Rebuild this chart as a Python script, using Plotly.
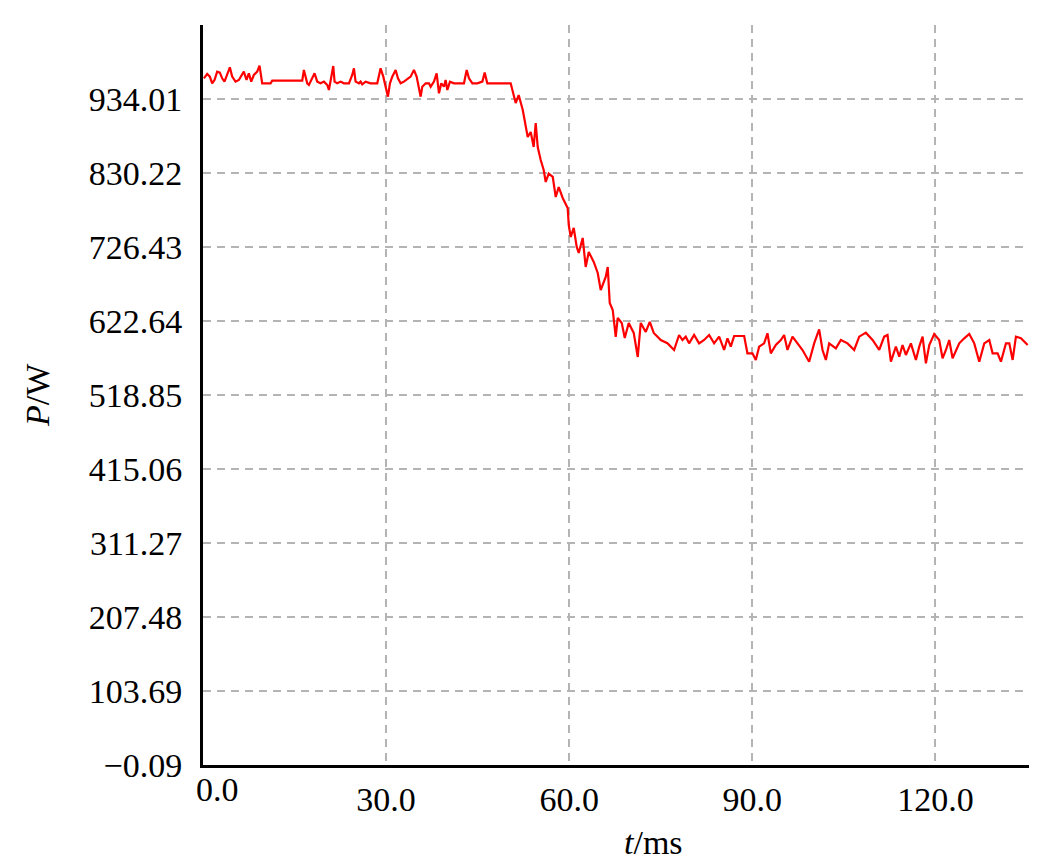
import plotly.graph_objects as go

# Time (ms) and power (W)
t_ms = [
    0.14, 0.68, 1.12, 1.50, 1.89, 2.32, 2.76, 3.14, 3.52, 3.96, 4.40, 4.78, 5.33, 5.87, 6.42, 6.69,
    7.13, 7.51, 7.90, 8.33, 8.88, 9.26, 9.70, 11.07, 11.34, 16.26, 16.53, 16.80, 17.08, 17.35, 17.90,
    18.28, 18.72, 19.26, 19.81, 20.36, 20.63, 20.90, 21.18, 21.34, 21.56, 22.00, 22.54, 23.09, 23.91,
    24.45, 24.73, 25.00, 25.55, 25.82, 26.09, 26.64, 27.46, 28.55, 29.10, 29.54, 29.92, 30.30, 30.63,
    31.01, 31.56, 31.94, 32.38, 32.92, 34.02, 34.56, 35.00, 35.38, 35.66, 35.93, 36.48, 37.02, 37.30,
    37.84, 38.28, 38.66, 39.04, 39.48, 39.75, 40.03, 40.46, 41.12, 42.76, 43.20, 43.58, 44.13, 44.95,
    45.77, 46.15, 46.58, 47.13, 50.41,
    51.23, 51.72, 52.38, 53.20, 53.69, 54.18, 54.51, 54.84, 55.33, 55.82, 56.15, 56.64, 57.30, 57.79,
    58.28, 58.93, 59.75, 59.92, 60.25, 60.74, 61.23, 61.56, 62.21, 62.70, 63.20, 64.02, 64.67, 65.16,
    65.98, 66.31, 66.64, 67.13, 67.62, 67.95, 68.61, 69.10, 69.75, 70.57, 71.23, 71.72, 72.54, 73.20,
    73.85, 75.00, 76.09, 77.18, 78.00, 78.55, 79.09, 79.64, 80.46, 81.28, 82.10, 82.92, 83.74, 84.56,
    85.38, 85.93, 86.47, 87.02, 88.66, 89.20, 90.02, 90.57, 91.12, 91.93, 92.48, 93.03, 93.85, 94.67,
    95.21, 95.76, 96.58, 97.40, 98.22, 99.31, 100.13, 100.95, 101.50, 102.05, 102.59, 103.69, 104.51,
    105.60, 106.69, 107.51, 108.60, 109.70, 110.79, 111.61, 112.15, 112.70, 113.52, 114.07, 114.61,
    115.16, 115.98, 116.80, 117.35, 117.89, 118.44, 118.99, 119.80, 120.62, 121.17, 121.72, 122.26,
    122.81, 123.90, 124.72, 125.54, 126.36, 127.18, 128.00, 128.82, 129.37, 130.19, 130.73, 131.55,
    132.10, 132.65, 133.19, 134.01, 135.11,
]
p_w = [
    963.0, 969.1, 965.4, 956.0, 960.7, 972.4, 971.0, 963.0, 958.4, 970.0, 978.5, 965.4, 958.4, 960.7,
    970.0, 972.4, 960.7, 970.0, 958.4, 967.7, 972.4, 980.8, 956.0, 956.0, 959.8, 959.8, 974.7, 965.4,
    956.0, 953.7, 963.0, 970.0, 958.4, 956.0, 958.4, 953.7, 946.7, 958.4, 970.0, 980.3, 958.4, 956.0,
    958.4, 956.0, 956.0, 967.7, 977.0, 958.4, 956.0, 958.4, 954.6, 958.4, 956.0, 956.0, 977.0, 965.4,
    951.3, 937.3, 956.0, 965.4, 974.7, 963.0, 956.0, 958.4, 965.4, 974.7, 965.4, 951.3, 937.3, 951.3,
    956.0, 956.0, 951.3, 958.4, 970.0, 942.0, 956.0, 951.3, 960.7, 946.7, 958.4, 956.0, 956.0, 974.7,
    963.0, 956.0, 956.0, 958.4, 971.0, 956.0, 956.0, 956.0,
    928.4, 939.6, 918.9, 880.7, 887.8, 866.7, 900.4, 866.7, 848.5, 834.5, 817.6, 829.4, 824.7, 796.6,
    810.6, 795.2, 781.2, 757.3, 740.5, 753.2, 726.5, 718.0, 739.1, 698.4, 719.4, 705.4, 690.0, 666.1,
    684.4, 698.4, 647.9, 638.1, 600.3, 626.9, 619.9, 598.8, 619.9, 605.9, 572.2, 619.9, 607.3, 621.3,
    605.9, 596.0, 591.4, 582.0, 603.0, 596.0, 600.7, 591.3, 603.0, 591.3, 596.0, 603.0, 591.3, 600.7,
    582.0, 598.4, 586.7, 601.6, 601.6, 577.3, 577.3, 568.0, 586.7, 591.3, 605.4, 577.3, 589.0, 596.0,
    603.0, 582.0, 600.7, 591.3, 582.0, 565.6, 591.3, 611.0, 582.0, 568.0, 591.3, 584.3, 596.0,
    591.3, 582.0, 600.7, 606.3, 596.0, 582.0, 600.7, 603.0, 565.6, 586.7, 572.6, 589.0,
    575.0, 591.3, 568.0, 586.7, 600.7, 563.3, 589.0, 604.4, 596.0, 570.3, 582.0, 596.0,
    570.3, 591.3, 598.4, 604.4, 591.3, 565.6, 591.3, 596.0, 577.3, 577.3, 565.6, 591.3,
    591.3, 568.0, 600.7, 598.4, 589.0,
]

y_tickvals = [-0.09, 103.69, 207.48, 311.27, 415.06, 518.85, 622.64, 726.43, 830.22, 934.01]
y_ticktext = ["\u22120.09", "103.69", "207.48", "311.27", "415.06", "518.85", "622.64", "726.43", "830.22", "934.01"]
x_tickvals = [0, 30, 60, 90, 120]
x_ticktext = ["", "30.0", "60.0", "90.0", "120.0"]

FONT = "Liberation Serif"
FS = 34

fig = go.Figure()
fig.add_trace(go.Scatter(x=t_ms, y=p_w, mode="lines",
                         line=dict(color="#ff0000", width=2.2), showlegend=False))

fig.update_layout(
    width=1045, height=857,
    margin=dict(l=195, r=24, t=17, b=100),
    paper_bgcolor="white", plot_bgcolor="white",
    font=dict(family=FONT, size=FS, color="black"),
    xaxis=dict(range=[0, 135.33], tickvals=x_tickvals, ticktext=x_ticktext,
               showgrid=True, gridcolor="#b4b4b4", gridwidth=2, griddash="8px,6px",
               showline=True, linecolor="black", linewidth=3, ticks="",
               ticklabelstandoff=2, zeroline=False,
               tickfont=dict(family=FONT, size=FS, color="black")),
    yaxis=dict(range=[-0.09, 1037.81], tickvals=y_tickvals, ticktext=y_ticktext,
               showgrid=True, gridcolor="#b4b4b4", gridwidth=2, griddash="8px,6px",
               showline=True, linecolor="black", linewidth=3, ticks="",
               ticklabelstandoff=11, zeroline=False,
               tickfont=dict(family=FONT, size=FS, color="black")),
    annotations=[
        dict(text="0.0", xref="x", yref="paper", x=0, y=0, xanchor="center", yanchor="top",
             xshift=14, yshift=-4, showarrow=False, font=dict(family=FONT, size=FS, color="black")),
        dict(text="<i>t</i>/ms", xref="paper", yref="paper", x=0.546, y=0, xanchor="center",
             yanchor="middle", yshift=-77, showarrow=False, font=dict(family=FONT, size=FS, color="black")),
        dict(text="<i>P</i>/W", xref="paper", yref="paper", x=0, y=0.5, xanchor="center",
             yanchor="middle", xshift=-166, textangle=-90, showarrow=False,
             font=dict(family=FONT, size=FS, color="black")),
    ],
)

fig.write_html("out.html")
